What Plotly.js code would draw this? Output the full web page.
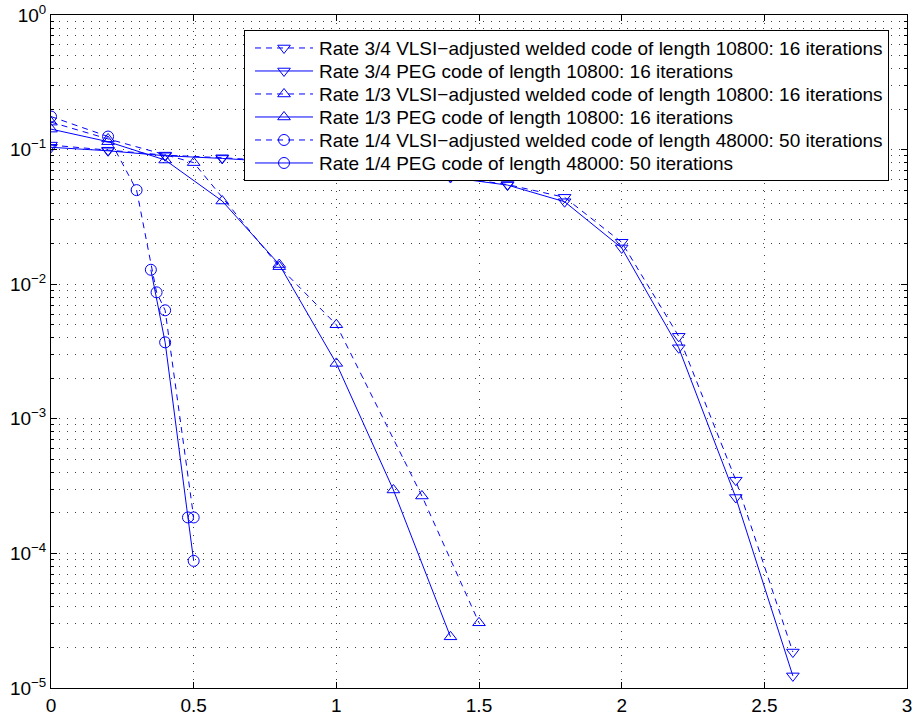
<!DOCTYPE html>
<html>
<head>
<meta charset="utf-8">
<script src="https://cdn.plot.ly/plotly-3.0.1.min.js"></script>
<style>html,body{margin:0;padding:0;background:#fff;}#chart{width:912px;height:723px;}</style>
</head>
<body>
<div id="chart"></div>
<script>
// ---- data ----
const names = [
  "Rate 3/4 VLSI\u2212adjusted welded code of length 10800: 16 iterations",
  "Rate 3/4 PEG code of length 10800: 16 iterations",
  "Rate 1/3 VLSI\u2212adjusted welded code of length 10800: 16 iterations",
  "Rate 1/3 PEG code of length 10800: 16 iterations",
  "Rate 1/4 VLSI\u2212adjusted welded code of length 48000: 50 iterations",
  "Rate 1/4 PEG code of length 48000: 50 iterations"
];
const r34_x = [0, 0.2, 0.4, 0.6, 0.8, 1.0, 1.2, 1.4, 1.6, 1.8, 2.0, 2.2, 2.4, 2.6];
const r34_vlsi_y = [0.108, 0.099, 0.091, 0.087, 0.082, 0.076, 0.069, 0.063, 0.0550, 0.0442, 0.0205, 0.0041, 0.00035, 0.0000185];
const r34_peg_y  = [0.104, 0.098, 0.090, 0.086, 0.081, 0.075, 0.068, 0.062, 0.0545, 0.0410, 0.0186, 0.00337, 0.00026, 0.0000123];
const r13_vlsi_x = [0, 0.2, 0.5, 0.8, 1.0, 1.3, 1.5];
const r13_vlsi_y = [0.160, 0.120, 0.080, 0.0135, 0.0050, 0.000267, 0.0000305];
const r13_peg_x = [0, 0.2, 0.4, 0.6, 0.8, 1.0, 1.2, 1.4];
const r13_peg_y = [0.142, 0.1145, 0.0837, 0.0415, 0.0140, 0.00258, 0.000296, 0.000024];
const r14_vlsi_x = [0, 0.2, 0.3, 0.37, 0.4, 0.5];
const r14_vlsi_y = [0.176, 0.125, 0.050, 0.0087, 0.0064, 0.000185];
const r14_peg_x = [0.35, 0.4, 0.48, 0.5];
const r14_peg_y = [0.0128, 0.0037, 0.000185, 0.000088];
const xTicks = [0, 0.5, 1, 1.5, 2, 2.5, 3];
const yTickVals = [1e-5, 1e-4, 1e-3, 1e-2, 1e-1, 1];
const yTickText = ["10<sup>\u22125</sup>", "10<sup>\u22124</sup>", "10<sup>\u22123</sup>", "10<sup>\u22122</sup>", "10<sup>\u22121</sup>", "10<sup>0</sup>"];

const blue = "#0000ff";
const dashPat = "6px,5px";
function tr(x, y, name, dashed, symbol) {
  return {
    x: x, y: y, name: name, type: "scatter", mode: "lines+markers",
    line: {color: blue, width: 1, dash: dashed ? dashPat : "solid"},
    marker: {symbol: symbol, size: 11, color: blue, line: {color: blue, width: 1}}
  };
}
const traces = [
  tr(r34_x, r34_vlsi_y, names[0], true, "triangle-down-open"),
  tr(r34_x, r34_peg_y, names[1], false, "triangle-down-open"),
  tr(r13_vlsi_x, r13_vlsi_y, names[2], true, "triangle-up-open"),
  tr(r13_peg_x, r13_peg_y, names[3], false, "triangle-up-open"),
  tr(r14_vlsi_x, r14_vlsi_y, names[4], true, "circle-open"),
  tr(r14_peg_x, r14_peg_y, names[5], false, "circle-open")
];

const minorVals = [];
for (let e = -5; e < 0; e++) for (let m = 2; m <= 9; m++) minorVals.push(m * Math.pow(10, e));

const gridCol = "rgba(0,0,0,0.75)";
const gridDash = "1px,7px";
const layout = {
  width: 912, height: 723,
  margin: {l: 51, r: 5, t: 15, b: 35},
  paper_bgcolor: "#fff", plot_bgcolor: "#fff",
  font: {family: "Liberation Sans, Arial, Helvetica, sans-serif", size: 19, color: "#000"},
  showlegend: true,
  legend: {
    x: 0.2255, y: 0.977, xanchor: "left", yanchor: "top",
    bgcolor: "#fff", bordercolor: "#000", borderwidth: 1,
    font: {size: 19}, traceorder: "normal"
  },
  xaxis: {
    range: [0, 3], tickmode: "array", tickvals: xTicks,
    ticks: "inside", ticklen: 6, tickcolor: "#000",
    showline: true, linecolor: "#000", linewidth: 1, mirror: "ticks",
    showgrid: true, gridcolor: gridCol, griddash: gridDash, gridwidth: 1,
    zeroline: false, tickfont: {size: 19}, ticklabeloverflow: "allow"
  },
  yaxis: {
    type: "log", range: [-5, 0], tickmode: "array", tickvals: yTickVals, ticktext: yTickText,
    ticks: "inside", ticklen: 6, tickcolor: "#000",
    showline: true, linecolor: "#000", linewidth: 1, mirror: "ticks",
    showgrid: true, gridcolor: gridCol, griddash: gridDash, gridwidth: 1,
    minor: {tickmode: "array", tickvals: minorVals, ticks: "inside", ticklen: 3, tickcolor: "#000",
            showgrid: true, gridcolor: gridCol, griddash: gridDash, gridwidth: 1},
    zeroline: false, tickfont: {size: 19}, ticklabeloverflow: "allow"
  }
};
Plotly.newPlot("chart", traces, layout, {displayModeBar: false, staticPlot: true}).then(function (gd) {
  // reshape legend entries like the reference: 23px rows, longer line samples
  const rowH = 23, textX = 74, extraW = textX - 40;
  const items = gd.querySelectorAll(".legend .traces");
  if (items.length < 2) return;
  const parse = el => {
    const m = /translate\(\s*([-\d.]+)[ ,]+([-\d.]+)\s*\)/.exec(el.getAttribute("transform") || "");
    return m ? [parseFloat(m[1]), parseFloat(m[2])] : null;
  };
  const p0 = parse(items[0]), p1 = parse(items[1]);
  if (!p0 || !p1) return;
  const d = Math.max(p1[1] - p0[1], rowH);
  const y0 = p0[1] - (d - rowH) / 2;
  items.forEach((el, i) => {
    const p = parse(el);
    el.setAttribute("transform", "translate(" + p[0] + "," + (y0 + i * rowH) + ")");
    el.querySelectorAll(".legendlines path").forEach(pa => pa.setAttribute("d", "M10,0h58"));
    el.querySelectorAll(".legendpoints path").forEach(pa => pa.setAttribute("transform", "translate(39,0)"));
    el.querySelectorAll("text.legendtext").forEach(t => {
      t.setAttribute("x", textX);
      t.querySelectorAll("tspan").forEach(ts => { if (ts.hasAttribute("x")) ts.setAttribute("x", textX); });
    });
  });
  const bg = gd.querySelector(".legend .bg");
  if (bg) {
    const h = parseFloat(bg.getAttribute("height"));
    const w = parseFloat(bg.getAttribute("width"));
    bg.setAttribute("height", h - items.length * (d - rowH));
    bg.setAttribute("width", w + extraW);
  }
  const sb = gd.querySelector(".legend .scrollbox");
  if (sb) sb.removeAttribute("clip-path");
});
</script>
</body>
</html>
